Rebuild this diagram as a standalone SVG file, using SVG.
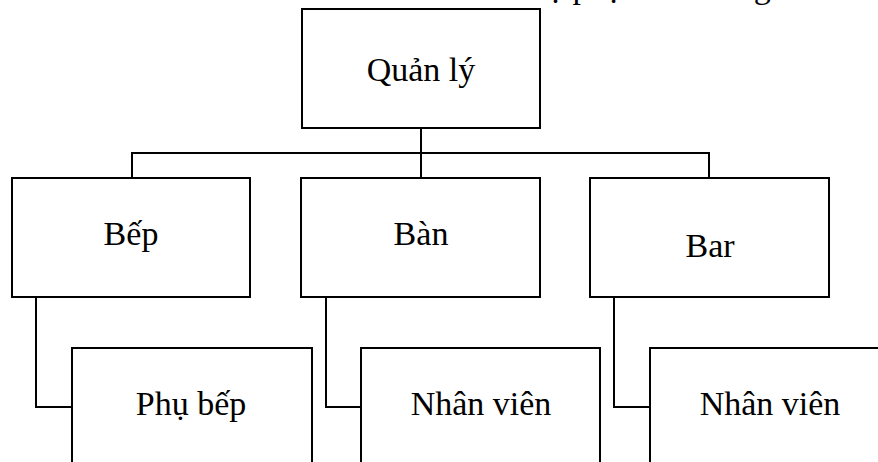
<svg xmlns="http://www.w3.org/2000/svg" width="878" height="462" viewBox="0 0 878 462">
<style>
.box{fill:#fff;stroke:#000;stroke-width:2}
.conn{fill:none;stroke:#000;stroke-width:2}
</style>
<rect width="878" height="462" fill="#fff"/>
<text x="530" y="-2" font-family="Liberation Serif" font-size="34" fill="#000">bộ phận nhà hàng</text>
<g id="connectors">
<path class="conn" d="M421 128V178M132 178V153H709V178"/>
<path class="conn" d="M36 297V407H72"/>
<path class="conn" d="M326 297V407H361"/>
<path class="conn" d="M614 297V407H650"/>
</g>
<g font-family="Liberation Serif" font-size="34" fill="#000" text-anchor="middle">
<g id="quanly"><rect class="box" x="302" y="9" width="238" height="119"/><text x="421" y="81">Quản lý</text></g>
<g id="bep"><rect class="box" x="12" y="178" width="238" height="119"/><text x="131" y="245">Bếp</text></g>
<g id="ban"><rect class="box" x="301" y="178" width="239" height="119"/><text x="421" y="245">Bàn</text></g>
<g id="bar"><rect class="box" x="590" y="178" width="239" height="119"/><text x="710" y="257">Bar</text></g>
<g id="phubep"><rect class="box" x="72" y="348" width="240" height="140"/><text x="191" y="415">Phụ bếp</text></g>
<g id="nhanvien1"><rect class="box" x="361" y="348" width="239" height="140"/><text x="481" y="415">Nhân viên</text></g>
<g id="nhanvien2"><rect class="box" x="650" y="348" width="240" height="140"/><text x="770" y="415">Nhân viên</text></g>
</g>
</svg>
